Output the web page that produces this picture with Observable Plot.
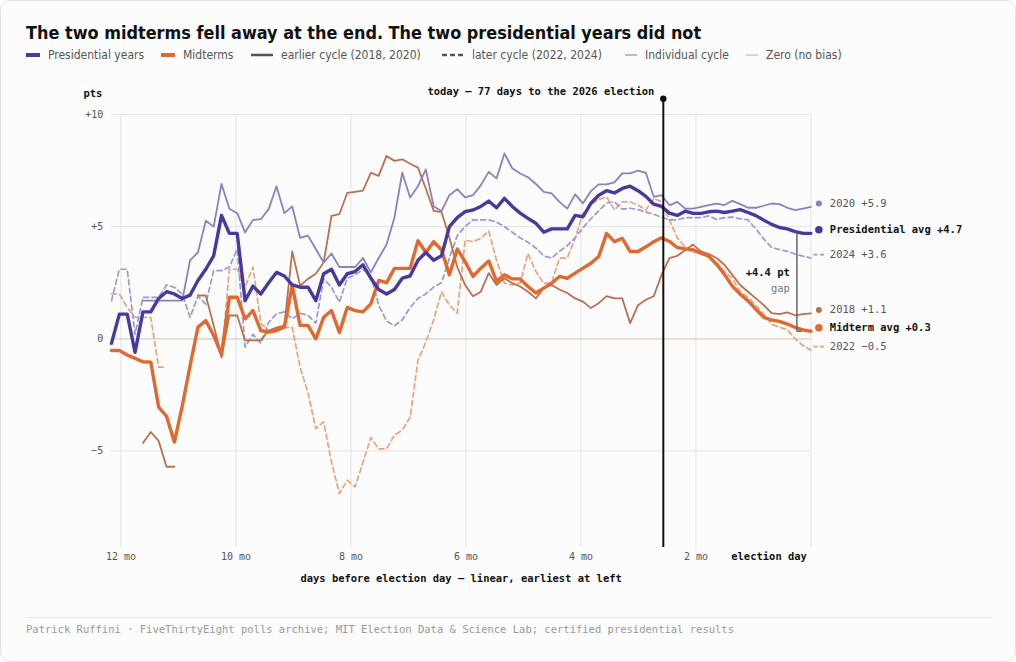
<!DOCTYPE html>
<html><head><meta charset="utf-8">
<script src="https://cdn.jsdelivr.net/npm/d3@7"></script>
<script src="https://cdn.jsdelivr.net/npm/@observablehq/plot@0.6"></script>
<style>
body{margin:0;background:#fff;}
#card{position:absolute;left:0;top:0;width:1014px;height:660px;border:1px solid #e3e3e3;border-radius:10px;background:#fcfcfc;overflow:hidden;}
#title{position:absolute;left:25px;top:21px;font-family:"DejaVu Sans Condensed","DejaVu Sans";font-stretch:condensed;font-weight:bold;font-size:17.9px;color:#111;white-space:nowrap;}
.leg{position:absolute;top:46px;height:16px;display:flex;align-items:center;font-family:"DejaVu Sans Condensed","DejaVu Sans";font-stretch:condensed;font-size:12px;color:#555;white-space:nowrap;}
.leg svg{margin-right:8px;}
#chart{position:absolute;left:0;top:70px;}
#sep{position:absolute;left:25px;top:616px;width:966px;border-top:1px solid #e6e6e6;}
#cap{position:absolute;left:25px;top:622px;font-family:"DejaVu Sans Mono";font-size:10.5px;color:#999;white-space:nowrap;}
</style></head>
<body>
<div id="card">
<div id="title">The two midterms fell away at the end. The two presidential years did not</div>
<div id="legend"></div>
<div id="chart"></div>
<div id="sep"></div>
<div id="cap">Patrick Ruffini · FiveThirtyEight polls archive; MIT Election Data &amp; Science Lab; certified presidential results</div>
</div>
<script>
// days before election day
const days = [364.9,360.8,356.7,352.6,348.5,344.4,340.3,336.2,332.1,328,
323.9,319.8,315.7,311.6,307.5,303.4,299.3,295.2,291.1,287,
282.9,278.8,274.7,270.6,266.5,262.4,258.3,254.2,250.1,246,
241.9,237.8,233.7,229.6,225.5,221.4,217.3,213.2,209.1,205,
200.9,196.8,192.7,188.6,184.5,180.4,176.3,172.2,168.1,164,
159.9,155.8,151.7,147.6,143.5,139.4,135.3,131.2,127.1,123,
118.9,114.8,110.7,106.6,102.5,98.4,94.3,90.2,86.1,82,
77.9,73.8,69.7,65.6,61.5,57.4,53.3,49.2,45.1,41,
36.9,32.8,28.7,24.6,20.5,16.4,12.3,8.2,4.1,0];

const presAvg = [-0.2,1.1,1.1,-0.6,1.2,1.2,1.8,2.1,2.0,1.8,
1.95,2.6,3.1,3.7,5.5,4.7,4.7,1.7,2.35,2.0,
2.5,2.96,2.8,2.4,2.3,2.3,1.7,2.9,3.1,2.4,
2.9,3.0,3.3,2.7,2.2,2.0,2.2,2.7,2.8,3.5,
3.85,3.5,3.7,5.0,5.4,5.67,5.74,5.9,6.14,5.84,
6.26,5.9,5.6,5.37,5.15,4.75,4.9,4.9,4.9,5.5,
5.44,6.04,6.4,6.6,6.5,6.7,6.8,6.6,6.35,6.0,
5.9,5.6,5.5,5.69,5.59,5.59,5.66,5.69,5.63,5.69,
5.76,5.63,5.49,5.29,5.1,4.96,4.9,4.78,4.7,4.7];

const y2020 = [null,null,null,null,1.7,1.7,1.7,1.7,1.7,1.7,
3.5,3.85,5.26,5.0,6.9,5.8,5.6,4.74,5.3,5.33,
5.78,6.8,5.6,5.9,4.5,4.6,4.0,3.4,3.8,3.2,
3.2,3.2,3.6,2.96,3.6,4.2,5.4,7.4,6.3,6.8,
7.55,5.9,5.7,6.4,6.67,6.3,6.4,6.85,7.44,7.15,
8.26,7.6,7.37,7.2,6.9,6.55,6.48,6.1,5.8,6.44,
6.04,6.58,6.88,6.88,6.97,7.37,7.37,7.5,7.4,6.33,
6.4,5.95,6.1,5.8,5.8,5.88,5.96,6.03,5.96,6.15,
6.0,5.84,5.84,5.93,6.03,6.0,5.84,5.74,5.8,5.88];

const y2024 = [1.7,3.1,3.1,0.2,1.85,1.85,1.85,2.4,2.3,2.0,
0.96,1.9,1.55,3.04,3.04,3.2,4.0,-0.37,0.2,-0.2,
0.74,1.11,1.2,0.89,1.14,1.05,0.7,2.67,2.3,1.63,
2.7,2.85,3.1,2.8,1.5,0.8,0.58,0.85,1.4,1.8,
2.0,2.3,2.5,3.6,4.6,5.0,5.3,5.3,5.3,5.2,
5.0,4.75,4.5,4.3,4.05,3.7,3.6,3.9,4.15,4.5,
4.95,5.35,5.7,6.05,6.1,5.78,5.82,5.76,5.65,5.55,
5.42,5.3,5.3,5.4,5.4,5.4,5.48,5.32,5.4,5.42,
5.35,5.3,4.9,4.45,4.07,3.98,3.9,3.78,3.68,3.6];

const midAvg = [-0.52,-0.52,-0.72,-0.87,-1.02,-1.04,-3.04,-3.45,-4.6,-3.0,
-1.2,0.52,0.81,0.15,-0.7,1.85,1.85,0.89,1.26,0.37,
0.3,0.37,0.52,2.37,0.6,0.6,0.0,0.96,1.26,0.28,
1.4,1.26,1.2,1.56,2.6,2.5,3.14,3.14,3.14,4.37,
3.85,4.33,3.96,2.85,4.0,3.44,2.78,3.15,3.47,2.56,
2.85,2.67,2.67,2.33,2.04,2.26,2.48,2.78,2.7,2.93,
3.15,3.37,3.67,4.7,4.33,4.48,3.89,3.89,4.1,4.33,
4.5,4.34,4.07,4.01,3.97,3.82,3.68,3.32,2.87,2.35,
1.99,1.69,1.32,0.96,0.84,0.78,0.66,0.51,0.4,0.34];

const y2018 = [null,null,null,null,-4.64,-4.15,-4.55,-5.7,-5.7,null,
null,1.93,1.93,0.6,-0.8,1.04,1.04,-0.07,-0.07,-0.07,
0.37,0.5,0.6,3.9,2.37,2.67,2.9,3.4,5.48,5.56,
6.5,6.55,6.6,7.4,7.26,8.15,7.93,8.0,7.8,7.63,
6.7,5.7,5.65,4.5,3.2,2.4,1.9,2.1,2.93,2.4,
2.7,2.48,2.33,2.1,1.8,2.26,2.4,2.2,2.04,1.8,
1.66,1.37,1.59,1.9,1.8,1.8,0.7,1.5,1.74,1.9,
2.85,3.6,3.7,3.95,4.2,3.9,3.78,3.6,3.3,2.85,
2.4,2.1,1.8,1.5,1.15,1.1,1.18,1.05,1.1,1.13];

const y2022 = [2.0,2.0,1.4,0.96,0.96,0.96,-1.26,-1.26,null,null,
null,null,null,null,-0.85,3.1,3.1,2.3,3.2,0.7,
0.37,0.45,0.52,0.5,-1.26,-2.4,-4.0,-3.7,-5.5,-6.9,
-6.3,-6.6,-5.5,-4.4,-4.9,-4.9,-4.3,-4.07,-3.5,-0.96,
-0.15,0.85,2.1,1.5,1.15,4.4,4.33,4.48,4.8,3.5,
2.48,2.4,2.48,3.8,3.0,2.48,2.48,3.6,3.6,4.48,
5.6,6.0,6.2,6.33,5.74,6.1,6.1,5.96,5.74,6.26,
6.1,5.3,4.5,4.1,3.85,3.85,3.7,3.4,3.0,2.7,
2.1,1.85,1.5,1.1,0.65,0.52,0.4,0.0,-0.3,-0.5];

const xTickDays = [360,300,240,180,120,60,0];
const xTickLabels = ["12 mo","10 mo","8 mo","6 mo","4 mo","2 mo","election day"];
const yTickVals = [10,5,0,-5];
const yTickLabels = ["+10","+5","0","−5"];
const todayDays = 77;
const legendLabels = ["Presidential years","Midterms","earlier cycle (2018, 2020)","later cycle (2022, 2024)","Individual cycle","Zero (no bias)"];
const seriesNames = ["2020","Presidential avg","2024","2018","Midterm avg","2022"];

// colours
const C = {pres:"#483a9c", p20:"#8a80c2", p24:"#9c96d4", mid:"#e0692f", m18:"#b8704f", m22:"#e9a27f"};

// legend
const legX = [25,160,250,441,624,745];
const legSw = [
  {w:14,c:C.pres,sw:4,da:null},{w:14,c:C.mid,sw:4,da:null},
  {w:22,c:"#555",sw:2.5,da:null},{w:22,c:"#555",sw:2.5,da:"5,3"},
  {w:12,c:"#aaa",sw:1.6,da:null},{w:12,c:"#cfc7bc",sw:1.6,da:null}];
const legEl = document.getElementById("legend");
legendLabels.forEach((t,i)=>{
  const s = legSw[i];
  const d = document.createElement("div");
  d.className="leg"; d.style.left=legX[i]+"px";
  d.innerHTML = `<svg width="${s.w}" height="8"><line x1="0" x2="${s.w}" y1="4" y2="4" stroke="${s.c}" stroke-width="${s.sw}" ${s.da?`stroke-dasharray="${s.da}"`:""}/></svg><span>${t}</span>`;
  legEl.appendChild(d);
});

const rows = days.map((d,i)=>({d, presAvg:presAvg[i], y2020:y2020[i], y2024:y2024[i], midAvg:midAvg[i], y2018:y2018[i], y2022:y2022[i]}));
const last = a => a[a.length-1];
const fmt = v => (v<0?"−":"+") + Math.abs(v).toFixed(1);
const ends = [
  {name:seriesNames[0], v:last(y2020), c:C.p20, kind:"dot", r:3.5, bold:false},
  {name:seriesNames[1], v:last(presAvg), c:C.pres, kind:"dot", r:5.5, bold:true},
  {name:seriesNames[2], v:last(y2024), c:C.p24, kind:"dash", bold:false},
  {name:seriesNames[3], v:last(y2018), c:C.m18, kind:"dot", r:3.5, bold:false},
  {name:seriesNames[4], v:last(midAvg), c:C.mid, kind:"dot", r:5.5, bold:true},
  {name:seriesNames[5], v:last(y2022), c:C.m22, kind:"dash", bold:false}];
ends.forEach(e=>e.label = e.name+" "+fmt(e.v));
const gap = last(presAvg) - last(midAvg);
const yMin = -9.3, yMax = 10;
const mono = "DejaVu Sans Mono";

const plot = Plot.plot({
  width: 1016, height: 540,
  marginLeft: 110, marginRight: 205, marginTop: 43, marginBottom: 63,
  x: {domain:[365,0], axis:null},
  y: {domain:[yMin,yMax], axis:null},
  style: {fontFamily: mono, fontSize:"10.5px", background:"transparent", overflow:"visible"},
  marks: [
    Plot.gridX(xTickDays, {stroke:"#e3e3e3", strokeOpacity:1}),
    Plot.gridY([10,5,-5], {stroke:"#e3e3e3", strokeOpacity:1}),
    Plot.ruleY([0], {stroke:"#d9cec1", strokeWidth:1.2}),
    Plot.line(rows, {x:"d", y:"y2022", stroke:C.m22, strokeWidth:1.7, strokeDasharray:"5,3.5"}),
    Plot.line(rows, {x:"d", y:"y2024", stroke:C.p24, strokeWidth:1.7, strokeDasharray:"5,3.5"}),
    Plot.line(rows, {x:"d", y:"y2018", stroke:C.m18, strokeWidth:1.8}),
    Plot.line(rows, {x:"d", y:"y2020", stroke:C.p20, strokeWidth:1.8}),
    Plot.line(rows, {x:"d", y:"midAvg", stroke:C.mid, strokeWidth:3.4, strokeLinejoin:"round"}),
    Plot.line(rows, {x:"d", y:"presAvg", stroke:C.pres, strokeWidth:3.4, strokeLinejoin:"round"}),
    // today marker
    Plot.ruleX([todayDays], {y1:yMin, y2:10.7, stroke:"#111", strokeWidth:2}),
    Plot.dot([todayDays], {x:d=>d, y:10.7, r:3.2, fill:"#111"}),
    Plot.text([todayDays], {x:d=>d, y:11.02, text:d=>`today — ${d} days to the 2026 election`, textAnchor:"end", dx:-9, fontWeight:"bold", fill:"#111"}),
    // gap bracket
    Plot.ruleX([7.3], {y1:last(midAvg), y2:last(presAvg), stroke:"#666", strokeWidth:1.5}),
    Plot.ruleY([last(midAvg)], {x1:7.3, x2:4.6, stroke:"#666", strokeWidth:1.5}),
    Plot.text([gap], {x:11, y:2.95, text:d=>fmt(d)+" pt", textAnchor:"end", fontWeight:"bold", fill:"#111"}),
    Plot.text([gap], {x:11, y:2.25, text:()=>"gap", textAnchor:"end", fill:"#777"}),
    // end labels
    Plot.dot(ends.filter(e=>e.kind==="dot"), {x:0, y:"v", r:"r", fill:"c", dx:8, dy:-3.5}),
    Plot.ruleY(ends.filter(e=>e.kind==="dash"), {y:"v", x1:-1.6, x2:-7.9, stroke:"c", strokeWidth:1.8, strokeDasharray:"4,2.5", dy:-3.5}),
    Plot.text(ends.filter(e=>!e.bold), {x:0, y:"v", text:"label", textAnchor:"start", dx:19, dy:-3.5, fill:"#555"}),
    Plot.text(ends.filter(e=>e.bold), {x:0, y:"v", text:"label", textAnchor:"start", dx:19, dy:-3.5, fill:"#111", fontWeight:"bold"}),
    // y axis labels
    Plot.text(yTickVals, {y:d=>d, text:(d,i)=>yTickLabels[i], frameAnchor:"left", textAnchor:"end", dx:-8, fill:"#555", fontSize:10}),
    Plot.text(["pts"], {frameAnchor:"top-left", text:d=>d, textAnchor:"end", dx:-9, dy:-25, fontWeight:"bold", fill:"#111"}),
    // x axis labels
    Plot.text(xTickDays.slice(0,-1), {x:d=>d, text:(d,i)=>xTickLabels[i], frameAnchor:"bottom", dy:12, fill:"#555", fontSize:10}),
    Plot.text(xTickDays.slice(-1), {x:d=>d, text:()=>xTickLabels[xTickLabels.length-1], frameAnchor:"bottom", dy:12, dx:-4, textAnchor:"end", fill:"#111", fontWeight:"bold"}),
    Plot.text(["days before election day — linear, earliest at left"], {frameAnchor:"bottom", text:d=>d, dy:35, fontWeight:"bold", fill:"#111"})
  ]
});
document.getElementById("chart").appendChild(plot);
</script>
</body></html>
